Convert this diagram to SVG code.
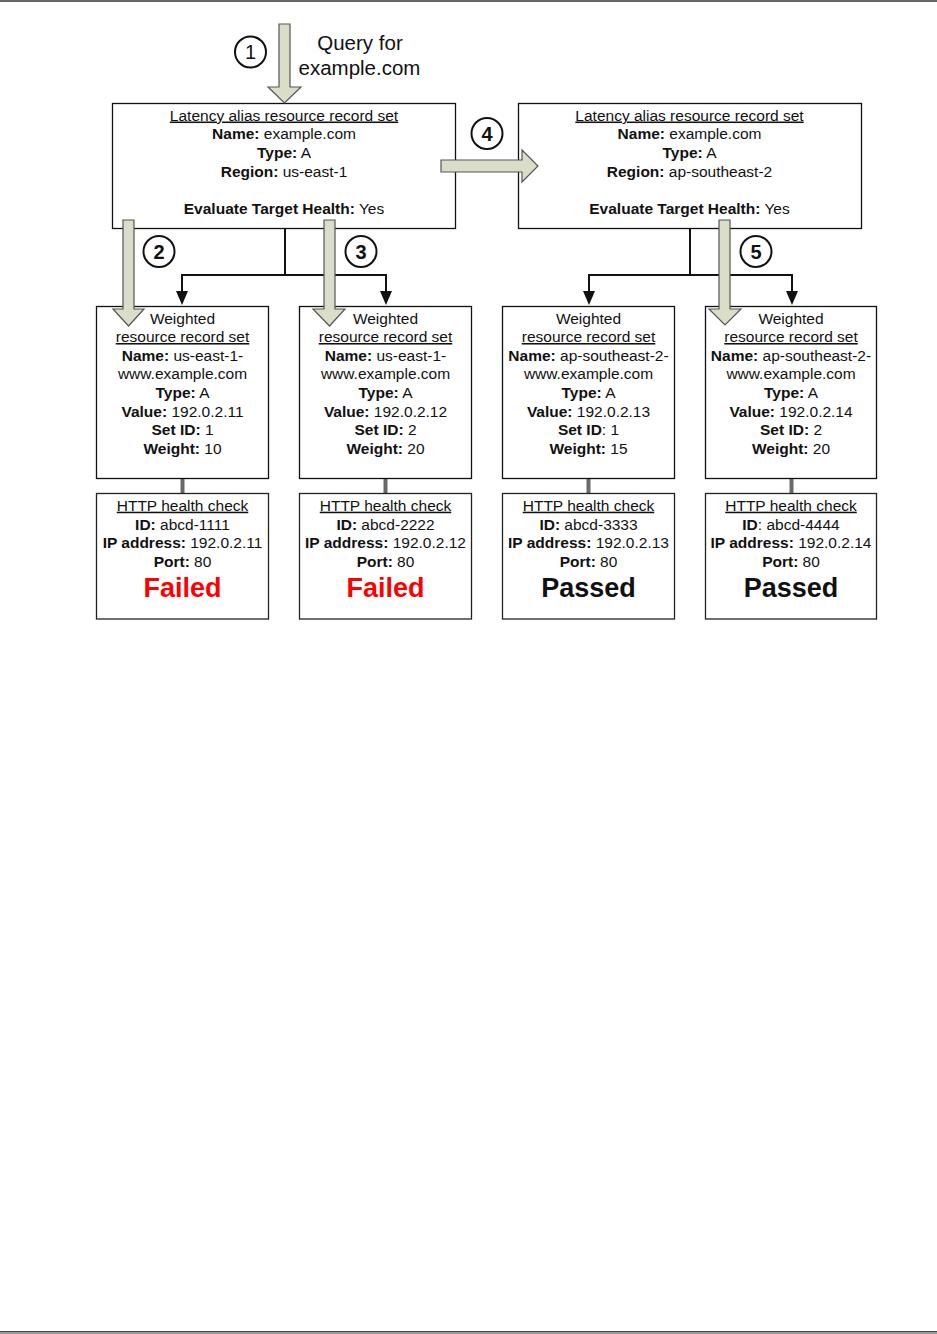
<svg xmlns="http://www.w3.org/2000/svg" width="937" height="1334" viewBox="0 0 937 1334">
<style>
text{font-family:"Liberation Sans",Arial,sans-serif;fill:#111;}
.t{font-size:15.5px;text-anchor:middle;}
.b{font-weight:bold;}
.u{text-decoration:underline;}
.box{fill:#fff;stroke:#111;stroke-width:1.3;}
.hbox{fill:#fff;stroke:#222;stroke-width:1.3;}
.num{font-size:20px;text-anchor:middle;font-weight:bold;}
.circ{fill:#fff;stroke:#111;stroke-width:2;}
.big{font-size:27px;font-weight:bold;text-anchor:middle;}
.fail{fill:#ff0000;}
.conn{fill:none;stroke:#111;stroke-width:2;}
.link{fill:#6a6a6a;}
.flow{fill:#dadec8;stroke:#555;stroke-width:1.2;}
</style>
<defs>
<marker id="ah" markerUnits="userSpaceOnUse" markerWidth="15" markerHeight="14" viewBox="0 -7 15 14" refX="0" refY="0" orient="auto">
<path d="M0,-6 L14,0 L0,6 z" fill="#111"/>
</marker>
</defs>
<rect width="937" height="1334" fill="#fff"/>
<rect x="0" y="0" width="937" height="2" fill="#666"/>
<rect x="0" y="1331" width="937" height="1" fill="#444"/>
<rect x="0" y="1332" width="937" height="2" fill="#999"/>

<g id="connectors">
<path class="conn" d="M285,228 V275 H182 V291" marker-end="url(#ah)"/>
<path class="conn" d="M285,275 H386 V291" marker-end="url(#ah)"/>
<path class="conn" d="M690,228 V275 H589 V291" marker-end="url(#ah)"/>
<path class="conn" d="M690,275 H792 V291" marker-end="url(#ah)"/>
<rect class="link" x="180.5" y="478" width="4" height="15"/>
<rect class="link" x="383.5" y="478" width="4" height="15"/>
<rect class="link" x="586.5" y="478" width="4" height="15"/>
<rect class="link" x="789.5" y="478" width="4" height="15"/>
</g>

<g id="latency-us-east-1">
<rect class="box" x="112.5" y="103.5" width="343" height="125"/>
<text class="t u" x="284" y="120.5">Latency alias resource record set</text>
<text class="t" x="284" y="139.3"><tspan class="b">Name:</tspan> example.com</text>
<text class="t" x="284" y="158"><tspan class="b">Type:</tspan> A</text>
<text class="t" x="284" y="176.7"><tspan class="b">Region:</tspan> us-east-1</text>
<text class="t" x="284" y="213.5"><tspan class="b">Evaluate Target Health:</tspan> Yes</text>
</g>

<g id="latency-ap-southeast-2">
<rect class="box" x="518.5" y="103.5" width="343" height="125"/>
<text class="t u" x="689.5" y="120.5">Latency alias resource record set</text>
<text class="t" x="689.5" y="139.3"><tspan class="b">Name:</tspan> example.com</text>
<text class="t" x="689.5" y="158"><tspan class="b">Type:</tspan> A</text>
<text class="t" x="689.5" y="176.7"><tspan class="b">Region:</tspan> ap-southeast-2</text>
<text class="t" x="689.5" y="213.5"><tspan class="b">Evaluate Target Health:</tspan> Yes</text>
</g>

<g id="weighted-1">
<rect class="box" x="96.5" y="306.5" width="172" height="172"/>
<text class="t" x="182.5" y="323.5">Weighted</text>
<text class="t u" x="182.5" y="342">resource record set</text>
<text class="t" x="182.5" y="360.7"><tspan class="b">Name:</tspan> us-east-1-</text>
<text class="t" x="182.5" y="379.3">www.example.com</text>
<text class="t" x="182.5" y="398.3"><tspan class="b">Type:</tspan> A</text>
<text class="t" x="182.5" y="416.7"><tspan class="b">Value:</tspan> 192.0.2.11</text>
<text class="t" x="182.5" y="435.2"><tspan class="b">Set ID:</tspan> 1</text>
<text class="t" x="182.5" y="453.5"><tspan class="b">Weight:</tspan> 10</text>
</g>

<g id="weighted-2">
<rect class="box" x="299.5" y="306.5" width="172" height="172"/>
<text class="t" x="385.5" y="323.5">Weighted</text>
<text class="t u" x="385.5" y="342">resource record set</text>
<text class="t" x="385.5" y="360.7"><tspan class="b">Name:</tspan> us-east-1-</text>
<text class="t" x="385.5" y="379.3">www.example.com</text>
<text class="t" x="385.5" y="398.3"><tspan class="b">Type:</tspan> A</text>
<text class="t" x="385.5" y="416.7"><tspan class="b">Value:</tspan> 192.0.2.12</text>
<text class="t" x="385.5" y="435.2"><tspan class="b">Set ID:</tspan> 2</text>
<text class="t" x="385.5" y="453.5"><tspan class="b">Weight:</tspan> 20</text>
</g>

<g id="weighted-3">
<rect class="box" x="502.5" y="306.5" width="172" height="172"/>
<text class="t" x="588.5" y="323.5">Weighted</text>
<text class="t u" x="588.5" y="342">resource record set</text>
<text class="t" x="588.5" y="360.7"><tspan class="b">Name:</tspan> ap-southeast-2-</text>
<text class="t" x="588.5" y="379.3">www.example.com</text>
<text class="t" x="588.5" y="398.3"><tspan class="b">Type:</tspan> A</text>
<text class="t" x="588.5" y="416.7"><tspan class="b">Value:</tspan> 192.0.2.13</text>
<text class="t" x="588.5" y="435.2"><tspan class="b">Set ID</tspan>: 1</text>
<text class="t" x="588.5" y="453.5"><tspan class="b">Weight:</tspan> 15</text>
</g>

<g id="weighted-4">
<rect class="box" x="705.5" y="306.5" width="171" height="172"/>
<text class="t" x="791" y="323.5">Weighted</text>
<text class="t u" x="791" y="342">resource record set</text>
<text class="t" x="791" y="360.7"><tspan class="b">Name:</tspan> ap-southeast-2-</text>
<text class="t" x="791" y="379.3">www.example.com</text>
<text class="t" x="791" y="398.3"><tspan class="b">Type:</tspan> A</text>
<text class="t" x="791" y="416.7"><tspan class="b">Value:</tspan> 192.0.2.14</text>
<text class="t" x="791" y="435.2"><tspan class="b">Set ID:</tspan> 2</text>
<text class="t" x="791" y="453.5"><tspan class="b">Weight:</tspan> 20</text>
</g>

<g id="health-1">
<rect class="hbox" x="96.5" y="493.5" width="172" height="125.5"/>
<text class="t u" x="182.5" y="510.7">HTTP health check</text>
<text class="t" x="182.5" y="530"><tspan class="b">ID:</tspan> abcd-1111</text>
<text class="t" x="182.5" y="548.3"><tspan class="b">IP address:</tspan> 192.0.2.11</text>
<text class="t" x="182.5" y="567.3"><tspan class="b">Port:</tspan> 80</text>
<text class="big fail" x="182.5" y="596.7">Failed</text>
</g>

<g id="health-2">
<rect class="hbox" x="299.5" y="493.5" width="172" height="125.5"/>
<text class="t u" x="385.5" y="510.7">HTTP health check</text>
<text class="t" x="385.5" y="530"><tspan class="b">ID:</tspan> abcd-2222</text>
<text class="t" x="385.5" y="548.3"><tspan class="b">IP address:</tspan> 192.0.2.12</text>
<text class="t" x="385.5" y="567.3"><tspan class="b">Port:</tspan> 80</text>
<text class="big fail" x="385.5" y="596.7">Failed</text>
</g>

<g id="health-3">
<rect class="hbox" x="502.5" y="493.5" width="172" height="125.5"/>
<text class="t u" x="588.5" y="510.7">HTTP health check</text>
<text class="t" x="588.5" y="530"><tspan class="b">ID:</tspan> abcd-3333</text>
<text class="t" x="588.5" y="548.3"><tspan class="b">IP address:</tspan> 192.0.2.13</text>
<text class="t" x="588.5" y="567.3"><tspan class="b">Port:</tspan> 80</text>
<text class="big" x="588.5" y="596.7">Passed</text>
</g>

<g id="health-4">
<rect class="hbox" x="705.5" y="493.5" width="171" height="125.5"/>
<text class="t u" x="791" y="510.7">HTTP health check</text>
<text class="t" x="791" y="530"><tspan class="b">ID</tspan>: abcd-4444</text>
<text class="t" x="791" y="548.3"><tspan class="b">IP address:</tspan> 192.0.2.14</text>
<text class="t" x="791" y="567.3"><tspan class="b">Port:</tspan> 80</text>
<text class="big" x="791" y="596.7">Passed</text>
</g>

<g id="flow-arrows">
<polygon class="flow" points="279,24 290,24 290,87 301,87 284.5,103 268,87 279,87"/>
<polygon class="flow" points="123,220 134,220 134,309 144,309 128.5,326 113,309 123,309"/>
<polygon class="flow" points="324,220 335,220 335,309 345,309 329.5,326 313,309 324,309"/>
<polygon class="flow" points="719,220 730,220 730,309 741,309 725,325 709,309 719,309"/>
<polygon class="flow" points="441,160 522,160 522,150 538,166 522,182 522,172 441,172"/>
</g>

<g id="query-label">
<text x="360" y="50" style="font-size:20.5px;text-anchor:middle;">Query for</text>
<text x="359.5" y="75" style="font-size:20.5px;text-anchor:middle;">example.com</text>
</g>

<g id="step-1"><circle class="circ" cx="250.5" cy="52" r="15.5"/><text class="num" x="250.5" y="59" style="font-weight:normal">1</text></g>
<g id="step-2"><circle class="circ" cx="159" cy="251.5" r="15.5"/><text class="num" x="159" y="258.5">2</text></g>
<g id="step-3"><circle class="circ" cx="361" cy="251.5" r="15.5"/><text class="num" x="361" y="258.5">3</text></g>
<g id="step-4"><circle class="circ" cx="487" cy="133.5" r="15.5"/><text class="num" x="487" y="140.5">4</text></g>
<g id="step-5"><circle class="circ" cx="756" cy="251.5" r="15.5"/><text class="num" x="756" y="258.5">5</text></g>
</svg>
